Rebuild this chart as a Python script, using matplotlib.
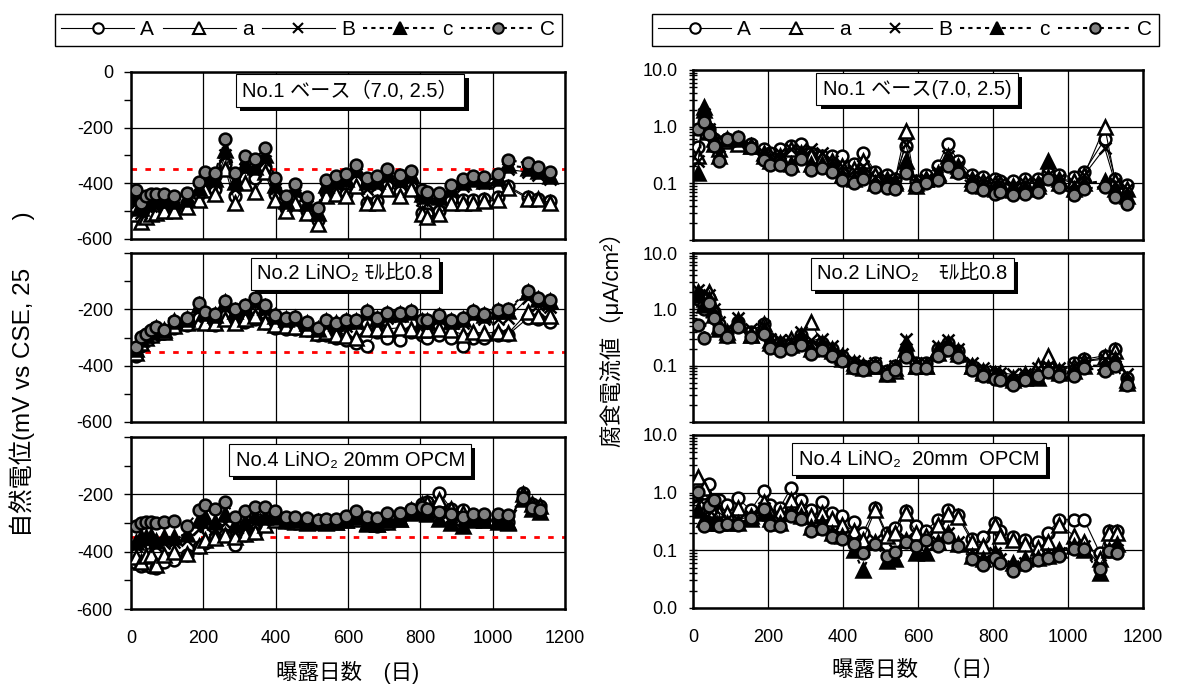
import matplotlib
matplotlib.use("Agg")
import numpy as np
import matplotlib.pyplot as plt
import matplotlib.patheffects as pe
from matplotlib.lines import Line2D
from matplotlib.ticker import LogLocator, NullFormatter

plt.rcParams['font.family'] = ['Liberation Sans', 'Noto Sans CJK JP', 'DejaVu Sans']

# exposure days
days = [14, 28, 42, 56, 70, 91, 119, 154, 189, 205, 232, 261, 288, 315, 343, 370, 398, 428,
        453, 486, 516, 538, 567, 594, 622, 652, 679, 707, 744, 774, 804, 819, 852, 885, 919,
        946, 977, 1016, 1043, 1098, 1126, 1158]
days4 = days[:-3] + [1085, 1108, 1130]

# natural potential (mV vs CSE)  No.1
pot1_A = [-490, -520, -500, -495, -490, -485, -490, -470, -440, -410, -420, -330, -445, -380, -380, -340,
          -440, -490, -450, -500, -530, -430, -430, -440, -395, -470, -465, -405, -430, -405, -505, -510,
          -500, -460, -460, -460, -455, -450, -410, -450, -455, -465]
pot1_a = [-510, -540, -520, -510, -505, -500, -500, -485, -460, -425, -440, -350, -470, -400, -430, -360,
          -460, -500, -470, -505, -545, -445, -440, -445, -410, -470, -470, -420, -445, -420, -510, -520,
          -510, -470, -470, -470, -465, -460, -415, -455, -455, -470]
pot1_B = [-470, -505, -480, -480, -475, -470, -475, -460, -425, -390, -400, -300, -420, -350, -355, -320,
          -420, -475, -430, -480, -515, -420, -405, -400, -365, -420, -410, -380, -400, -385, -460, -470,
          -470, -430, -410, -395, -400, -395, -350, -360, -370, -385]
pot1_c = [-450, -490, -470, -465, -460, -460, -465, -455, -415, -380, -385, -280, -395, -330, -340, -300,
          -405, -465, -420, -470, -505, -405, -390, -385, -350, -395, -390, -365, -385, -370, -440, -445,
          -450, -420, -395, -385, -390, -380, -335, -345, -355, -375]
pot1_C = [-425, -470, -445, -440, -440, -440, -446, -434, -394, -358, -364, -241, -364, -301, -313, -274,
          -380, -446, -402, -450, -490, -388, -374, -368, -334, -382, -374, -350, -370, -355, -424, -430,
          -436, -406, -383, -374, -378, -366, -316, -328, -340, -358]

# No.2
pot2_A = [-365, -330, -310, -295, -290, -285, -265, -255, -230, -250, -255, -225, -250, -245, -235, -250,
          -265, -270, -270, -275, -290, -290, -300, -310, -320, -330, -280, -300, -310, -280, -290, -300,
          -290, -300, -330, -300, -300, -290, -290, -230, -235, -245]
pot2_a = [-355, -320, -300, -290, -280, -280, -258, -250, -245, -248, -250, -235, -250, -235, -225, -245,
          -255, -260, -262, -270, -285, -280, -290, -295, -300, -270, -270, -270, -265, -270, -275, -275,
          -270, -275, -290, -280, -285, -280, -285, -210, -225, -225]
pot2_B = [-345, -310, -295, -280, -272, -275, -248, -240, -200, -225, -230, -195, -225, -205, -185, -205,
          -235, -245, -245, -260, -275, -255, -265, -260, -250, -225, -250, -230, -225, -220, -250, -255,
          -235, -250, -250, -225, -235, -235, -230, -160, -185, -190]
pot2_c = [-340, -305, -290, -278, -268, -275, -243, -235, -185, -212, -220, -175, -205, -190, -168, -190,
          -225, -236, -232, -250, -270, -242, -250, -242, -240, -210, -236, -218, -215, -210, -242, -242,
          -225, -240, -236, -210, -220, -206, -205, -140, -165, -170]
pot2_C = [-335, -297, -287, -275, -264, -273, -240, -232, -178, -208, -216, -169, -200, -185, -161, -185,
          -221, -232, -228, -246, -267, -238, -247, -238, -238, -206, -232, -214, -212, -205, -238, -238,
          -220, -238, -232, -205, -216, -202, -200, -134, -161, -167]

# No.4
pot4_A = [-440, -450, -445, -455, -457, -435, -430, -411, -382, -371, -354, -343, -378, -343, -335, -295,
          -290, -295, -300, -300, -298, -300, -295, -290, -285, -300, -310, -300, -285, -260, -235, -225,
          -194, -250, -255, -285, -290, -290, -295, -195, -235, -240]
pot4_a = [-420, -435, -415, -410, -448, -413, -400, -408, -380, -359, -353, -342, -350, -340, -330, -306,
          -290, -292, -298, -300, -298, -300, -295, -290, -285, -305, -305, -295, -285, -255, -235, -230,
          -220, -250, -265, -285, -290, -290, -295, -200, -235, -240]
pot4_B = [-380, -370, -365, -360, -380, -370, -365, -360, -320, -310, -320, -300, -330, -310, -295, -285,
          -285, -292, -295, -298, -300, -298, -298, -292, -282, -302, -306, -292, -285, -262, -250, -250,
          -260, -280, -290, -290, -292, -295, -298, -205, -240, -250]
pot4_c = [-365, -350, -348, -345, -363, -350, -350, -340, -290, -278, -295, -267, -307, -295, -276, -280,
          -280, -290, -290, -295, -298, -295, -295, -290, -280, -300, -305, -290, -285, -265, -260, -270,
          -285, -300, -310, -290, -290, -295, -300, -215, -250, -260]
pot4_C = [-310, -300, -297, -298, -299, -296, -294, -309, -256, -237, -252, -226, -278, -258, -243, -245,
          -257, -278, -278, -284, -290, -286, -286, -276, -258, -278, -284, -266, -266, -252, -243, -252,
          -260, -270, -278, -270, -268, -269, -272, -214, -246, -254]

# corrosion current (uA/cm2)  No.1
cur1_A = [0.43, 1.0, 0.9, 0.6, 0.5, 0.6, 0.55, 0.5, 0.4, 0.35, 0.4, 0.45, 0.5, 0.35, 0.3, 0.3, 0.3, 0.22,
          0.35, 0.16, 0.14, 0.12, 0.45, 0.11, 0.14, 0.2, 0.49, 0.25, 0.14, 0.13, 0.12, 0.11, 0.11, 0.12,
          0.12, 0.15, 0.14, 0.13, 0.16, 0.6, 0.12, 0.095]
cur1_a = [0.3, 2.2, 1.0, 0.6, 0.4, 0.55, 0.5, 0.45, 0.35, 0.3, 0.3, 0.4, 0.35, 0.3, 0.28, 0.25, 0.2, 0.18,
          0.25, 0.14, 0.12, 0.11, 0.85, 0.09, 0.12, 0.15, 0.3, 0.2, 0.12, 0.11, 0.1, 0.1, 0.09, 0.1, 0.1,
          0.13, 0.12, 0.11, 0.14, 1.0, 0.11, 0.08]
cur1_B = [0.25, 1.7, 0.9, 0.55, 0.45, 0.55, 0.55, 0.45, 0.35, 0.3, 0.35, 0.4, 0.4, 0.4, 0.35, 0.25, 0.2,
          0.17, 0.2, 0.13, 0.12, 0.11, 0.5, 0.1, 0.12, 0.16, 0.3, 0.2, 0.12, 0.11, 0.1, 0.1, 0.09, 0.1, 0.1,
          0.14, 0.12, 0.1, 0.14, 0.42, 0.1, 0.08]
cur1_c = [0.15, 2.0, 0.8, 0.5, 0.3, 0.6, 0.6, 0.45, 0.3, 0.25, 0.25, 0.22, 0.3, 0.22, 0.22, 0.2, 0.14,
          0.12, 0.15, 0.1, 0.1, 0.1, 0.25, 0.1, 0.12, 0.14, 0.25, 0.17, 0.1, 0.09, 0.08, 0.08, 0.075, 0.08,
          0.09, 0.25, 0.1, 0.08, 0.1, 0.11, 0.08, 0.06]
cur1_C = [0.9, 1.2, 0.75, 0.45, 0.25, 0.6, 0.65, 0.42, 0.26, 0.21, 0.21, 0.18, 0.27, 0.17, 0.19, 0.16,
          0.115, 0.1, 0.12, 0.087, 0.083, 0.081, 0.15, 0.087, 0.1, 0.115, 0.2, 0.15, 0.087, 0.076, 0.064,
          0.07, 0.062, 0.065, 0.071, 0.12, 0.087, 0.062, 0.081, 0.087, 0.058, 0.044]

# No.2
cur2_A = [1.5, 1.0, 1.6, 0.9, 0.55, 0.4, 0.6, 0.4, 0.55, 0.3, 0.25, 0.25, 0.35, 0.22, 0.25, 0.2, 0.15,
          0.11, 0.1, 0.11, 0.08, 0.1, 0.17, 0.11, 0.11, 0.2, 0.25, 0.18, 0.1, 0.08, 0.07, 0.065, 0.055,
          0.065, 0.08, 0.1, 0.08, 0.11, 0.13, 0.15, 0.2, 0.06]
cur2_a = [2.0, 1.5, 2.0, 1.0, 0.5, 0.4, 0.65, 0.35, 0.55, 0.28, 0.25, 0.3, 0.35, 0.6, 0.25, 0.2, 0.15,
          0.11, 0.1, 0.1, 0.07, 0.08, 0.2, 0.1, 0.1, 0.2, 0.25, 0.18, 0.1, 0.08, 0.07, 0.065, 0.06, 0.07,
          0.1, 0.15, 0.08, 0.1, 0.12, 0.14, 0.18, 0.055]
cur2_B = [2.2, 2.0, 1.8, 1.0, 0.6, 0.45, 0.7, 0.45, 0.5, 0.3, 0.28, 0.28, 0.4, 0.28, 0.3, 0.22, 0.16,
          0.12, 0.1, 0.11, 0.08, 0.1, 0.3, 0.11, 0.11, 0.22, 0.28, 0.2, 0.11, 0.09, 0.08, 0.075, 0.07, 0.07,
          0.09, 0.1, 0.09, 0.1, 0.12, 0.13, 0.15, 0.07]
cur2_c = [1.8, 1.2, 1.5, 0.8, 0.45, 0.35, 0.55, 0.35, 0.45, 0.25, 0.22, 0.23, 0.3, 0.2, 0.22, 0.18, 0.13,
          0.1, 0.09, 0.1, 0.075, 0.09, 0.25, 0.1, 0.1, 0.17, 0.22, 0.16, 0.1, 0.075, 0.068, 0.062, 0.055,
          0.06, 0.06, 0.09, 0.075, 0.08, 0.1, 0.1, 0.13, 0.05]
cur2_C = [0.52, 0.31, 1.28, 0.69, 0.44, 0.32, 0.48, 0.32, 0.37, 0.21, 0.18, 0.2, 0.23, 0.16, 0.19, 0.15,
          0.12, 0.09, 0.083, 0.095, 0.068, 0.083, 0.14, 0.09, 0.09, 0.15, 0.19, 0.14, 0.083, 0.065, 0.059,
          0.055, 0.045, 0.055, 0.065, 0.078, 0.065, 0.065, 0.092, 0.08, 0.1, 0.045]

# No.4
cur4_A = [0.9, 1.0, 1.4, 0.7, 0.74, 0.6, 0.8, 0.5, 1.07, 0.6, 0.55, 1.2, 0.74, 0.5, 0.68, 0.44, 0.4, 0.31,
          0.2, 0.54, 0.2, 0.24, 0.49, 0.26, 0.22, 0.34, 0.5, 0.41, 0.16, 0.17, 0.3, 0.22, 0.17, 0.15, 0.14,
          0.2, 0.34, 0.34, 0.34, 0.09, 0.22, 0.22]
cur4_a = [1.9, 1.2, 0.7, 0.5, 0.45, 0.45, 0.55, 0.4, 0.7, 0.45, 0.45, 0.75, 0.55, 0.4, 0.45, 0.35, 0.28,
          0.22, 0.15, 0.5, 0.18, 0.2, 0.45, 0.2, 0.18, 0.28, 0.42, 0.38, 0.14, 0.12, 0.28, 0.18, 0.15, 0.13,
          0.11, 0.14, 0.28, 0.18, 0.14, 0.07, 0.2, 0.2]
cur4_B = [0.8, 0.35, 0.5, 0.55, 0.33, 0.35, 0.33, 0.4, 0.55, 0.35, 0.32, 0.45, 0.4, 0.26, 0.28, 0.2, 0.18,
          0.15, 0.1, 0.15, 0.09, 0.1, 0.16, 0.13, 0.16, 0.14, 0.2, 0.14, 0.08, 0.065, 0.09, 0.07, 0.05, 0.06,
          0.075, 0.08, 0.09, 0.12, 0.12, 0.055, 0.11, 0.1]
cur4_c = [0.5, 0.35, 0.3, 0.3, 0.3, 0.3, 0.3, 0.35, 0.45, 0.35, 0.3, 0.45, 0.4, 0.25, 0.3, 0.2, 0.18, 0.1,
          0.045, 0.14, 0.065, 0.07, 0.15, 0.09, 0.09, 0.14, 0.2, 0.13, 0.08, 0.07, 0.09, 0.075, 0.06, 0.07,
          0.075, 0.08, 0.1, 0.12, 0.1, 0.04, 0.1, 0.13]
cur4_C = [1.03, 0.26, 0.59, 0.76, 0.26, 0.29, 0.27, 0.37, 0.53, 0.27, 0.26, 0.4, 0.35, 0.22, 0.23, 0.17,
          0.16, 0.13, 0.089, 0.13, 0.081, 0.093, 0.14, 0.12, 0.15, 0.12, 0.17, 0.12, 0.071, 0.056, 0.074,
          0.06, 0.044, 0.055, 0.068, 0.075, 0.081, 0.105, 0.105, 0.047, 0.098, 0.09]

labels = ['A', 'a', 'B', 'c', 'C']
styles = {
    'A': dict(marker='o', mfc='white', ms=8.5, ls='-', lw=0.8),
    'a': dict(marker='^', mfc='white', ms=9.5, ls='-', lw=0.8),
    'B': dict(marker='x', mfc='black', ms=8.5, ls='-', lw=0.8),
    'c': dict(marker='^', mfc='black', ms=9.5, ls=(0, (2, 2)), lw=1.5),
    'C': dict(marker='o', mfc='#808080', ms=8.5, ls=(0, (2, 2)), lw=1.5),
}

W, H = 1179, 684
fig = plt.figure(figsize=(W / 100, H / 100), dpi=100)


def px_axes(x0, y0, x1, y1):
    return fig.add_axes([x0 / W, 1 - y1 / H, (x1 - x0) / W, (y1 - y0) / H])


def draw_series(ax, x, series):
    for lab, y in zip(labels, series):
        ax.plot(x, y, color='black', mec='black', mew=1.8, zorder=3, **styles[lab])


def panel_title(ax, text, xc, yc):
    t = ax.text(xc, yc, text, transform=ax.transAxes, ha='center', va='center', fontsize=14.5,
                bbox=dict(boxstyle='square,pad=0.32', fc='white', ec='black', lw=0.8), zorder=6)
    t.get_bbox_patch().set_path_effects([
        pe.SimplePatchShadow(offset=(3, -3), shadow_rgbFace='black', alpha=1.0), pe.Normal()])


def frame(ax):
    for s in ax.spines.values():
        s.set_linewidth(1.8)
    ax.set_xlim(0, 1200)
    ax.set_xticks(range(0, 1201, 200))
    ax.grid(True, which='major', color='black', lw=0.9, zorder=1)
    ax.tick_params(axis='x', length=0, pad=15, labelsize=13)
    ax.tick_params(axis='y', labelsize=13)


# ---- left: natural potential ----
left_boxes = [(72, 239), (253, 422), (437, 609)]
pot_sets = [
    (days, [pot1_A, pot1_a, pot1_B, pot1_c, pot1_C], 'No.1 ベース（7.0, 2.5）', 0.505, 0.89),
    (days, [pot2_A, pot2_a, pot2_B, pot2_c, pot2_C], 'No.2 LiNO\u2082 ﾓﾙ比0.8', 0.493, 0.876),
    (days4, [pot4_A, pot4_a, pot4_B, pot4_c, pot4_C], 'No.4 LiNO\u2082 20mm OPCM', 0.505, 0.866),
]
for i, ((y0, y1), (x, ser, title, tx, ty)) in enumerate(zip(left_boxes, pot_sets)):
    ax = px_axes(131, y0, 565, y1)
    frame(ax)
    ax.set_ylim(-600, 0)
    ax.set_yticks([0, -200, -400, -600])
    ax.set_yticks([-100, -300, -500], minor=True)
    ax.set_yticklabels(['0' if i == 0 else '', '-200', '-400', '-600'])
    ax.tick_params(axis='y', which='both', direction='out', length=5, width=1, pad=8)
    ax.axhline(-350, color='red', lw=2, ls=(0, (2, 3)), zorder=2)
    draw_series(ax, x, ser)
    panel_title(ax, title, tx, ty)
    if i < 2:
        ax.set_xticklabels([])
    else:
        ax.set_xlabel('曝露日数　(日)', fontsize=15.5, labelpad=10)

fig.text(22 / W, 1 - 374 / H, '自然電位(mV vs CSE, 25　　)', rotation=90, ha='center', va='center',
         fontsize=17.5)

# ---- right: corrosion current ----
right_boxes = [(70, 240), (253, 422), (435, 608)]
cur_sets = [
    (days, [cur1_A, cur1_a, cur1_B, cur1_c, cur1_C], 'No.1 ベース(7.0, 2.5)', 0.498, 0.888),
    (days, [cur2_A, cur2_a, cur2_B, cur2_c, cur2_C], 'No.2 LiNO\u2082　ﾓﾙ比0.8', 0.487, 0.876),
    (days4, [cur4_A, cur4_a, cur4_B, cur4_c, cur4_C], 'No.4 LiNO\u2082  20mm  OPCM', 0.502, 0.861),
]
for i, ((y0, y1), (x, ser, title, tx, ty)) in enumerate(zip(right_boxes, cur_sets)):
    ax = px_axes(693, y0, 1143, y1)
    ax.set_yscale('log')
    frame(ax)
    ax.set_ylim(0.01, 10)
    ax.set_yticks([0.01, 0.1, 1, 10])
    ax.set_yticklabels(['0.0' if i == 2 else '', '0.1', '1.0', '10.0'])
    ax.yaxis.set_minor_locator(LogLocator(base=10, subs=np.arange(2, 10)))
    ax.yaxis.set_minor_formatter(NullFormatter())
    ax.tick_params(axis='y', which='both', direction='inout', length=6, width=1, pad=8)
    draw_series(ax, x, ser)
    panel_title(ax, title, tx, ty)
    if i < 2:
        ax.set_xticklabels([])
    else:
        ax.set_xlabel('曝露日数　（日）', fontsize=15.5, labelpad=10)

fig.text(611 / W, 1 - 334 / H, '腐食電流値（μA/cm²）', rotation=90, ha='center', va='center',
         fontsize=16)

# ---- legends ----
handles = [Line2D([], [], color='black', mec='black', mew=1.5,
                  **{**styles[k], 'ms': styles[k]['ms'] - 1}) for k in labels]
for lx in (55, 652):
    fig.legend(handles, labels, ncol=5, loc='upper left', bbox_to_anchor=(lx / W, 1 - 14 / H),
               borderaxespad=0, fontsize=15, frameon=True, fancybox=False, edgecolor='black',
               framealpha=1, handlelength=3.5, handletextpad=0.3, columnspacing=0.4, borderpad=0.3)

fig.savefig('out.png', dpi=100)
